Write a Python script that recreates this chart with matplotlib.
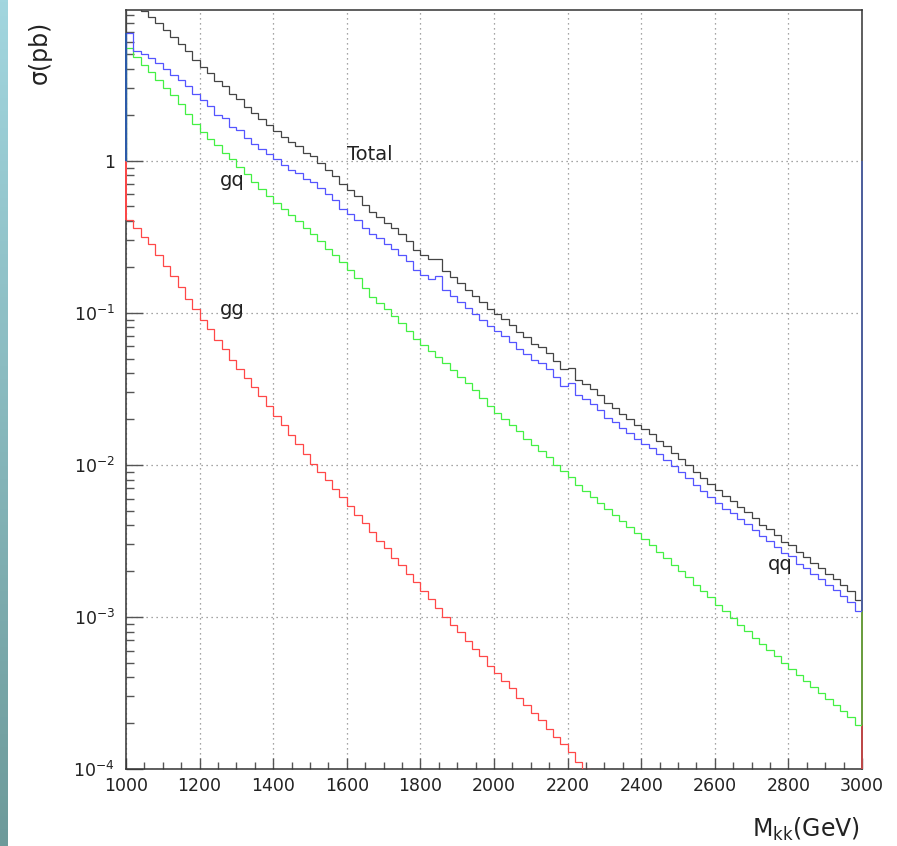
import numpy as np
import matplotlib
matplotlib.use("Agg")
import matplotlib.pyplot as plt
from matplotlib.colors import LinearSegmentedColormap
from matplotlib.ticker import FixedLocator, FixedFormatter, LogLocator, NullFormatter, MultipleLocator

# 20 GeV bins from 1000 to 3000 GeV
bin_edges = np.arange(1000, 3001, 20)

# sigma (pb) per bin
sigma_total = [12.8, 10.4, 9.60, 8.81, 8.00, 7.20, 6.49, 5.88, 5.25, 4.60,
               4.15, 3.75, 3.33, 3.09, 2.73, 2.53, 2.26, 2.05, 1.87, 1.71,
               1.57, 1.43, 1.32, 1.24, 1.13, 1.07, 0.965, 0.874, 0.797, 0.699,
               0.643, 0.582, 0.512, 0.461, 0.427, 0.390, 0.361, 0.327, 0.297, 0.260,
               0.241, 0.224, 0.227, 0.189, 0.172, 0.156, 0.142, 0.129, 0.117, 0.106,
               0.0982, 0.0912, 0.0831, 0.0744, 0.0688, 0.0627, 0.0593, 0.0541, 0.0482, 0.0424,
               0.0432, 0.0363, 0.0338, 0.0314, 0.0286, 0.0256, 0.0238, 0.0217, 0.0201, 0.0184,
               0.0171, 0.0159, 0.0144, 0.0132, 0.0120, 0.0109, 0.00995, 0.00903, 0.00824, 0.00752,
               0.00682, 0.00623, 0.00577, 0.00526, 0.00488, 0.00444, 0.00405, 0.00376, 0.00343, 0.00313,
               0.00297, 0.00266, 0.00247, 0.00226, 0.00210, 0.00191, 0.00177, 0.00162, 0.00148, 0.00130]

sigma_qq = [6.87, 5.25, 5.01, 4.73, 4.37, 3.98, 3.63, 3.39, 3.09, 2.75,
            2.51, 2.29, 2.00, 1.91, 1.66, 1.58, 1.41, 1.29, 1.20, 1.10,
            1.02, 0.933, 0.871, 0.832, 0.759, 0.724, 0.661, 0.603, 0.550, 0.479,
            0.447, 0.407, 0.363, 0.331, 0.309, 0.282, 0.263, 0.240, 0.219, 0.191,
            0.178, 0.166, 0.174, 0.141, 0.129, 0.117, 0.107, 0.0977, 0.0891, 0.0813,
            0.0759, 0.0708, 0.0646, 0.0575, 0.0537, 0.0490, 0.0468, 0.0427, 0.0380, 0.0331,
            0.0347, 0.0288, 0.0269, 0.0251, 0.0229, 0.0204, 0.0191, 0.0174, 0.0162, 0.0148,
            0.0138, 0.0129, 0.0117, 0.0107, 0.00977, 0.00891, 0.00813, 0.00741, 0.00676, 0.00617,
            0.00562, 0.00513, 0.00479, 0.00437, 0.00407, 0.00372, 0.00339, 0.00316, 0.00288, 0.00263,
            0.00251, 0.00224, 0.00209, 0.00191, 0.00178, 0.00162, 0.00151, 0.00138, 0.00126, 0.00110]

sigma_gq = [5.50, 4.79, 4.27, 3.80, 3.39, 3.02, 2.69, 2.34, 2.04, 1.74,
            1.55, 1.38, 1.26, 1.12, 1.02, 0.912, 0.813, 0.724, 0.646, 0.589,
            0.525, 0.479, 0.437, 0.398, 0.363, 0.331, 0.295, 0.263, 0.240, 0.214,
            0.191, 0.170, 0.145, 0.126, 0.115, 0.105, 0.0955, 0.0851, 0.0759, 0.0676,
            0.0617, 0.0562, 0.0513, 0.0468, 0.0417, 0.0380, 0.0347, 0.0309, 0.0275, 0.0245,
            0.0219, 0.0200, 0.0182, 0.0166, 0.0148, 0.0135, 0.0123, 0.0112, 0.0100, 0.00912,
            0.00832, 0.00741, 0.00676, 0.00617, 0.00562, 0.00513, 0.00468, 0.00427, 0.00389, 0.00355,
            0.00324, 0.00295, 0.00269, 0.00245, 0.00219, 0.00200, 0.00182, 0.00162, 0.00148, 0.00135,
            0.00120, 0.00110, 0.000977, 0.000891, 0.000813, 0.000724, 0.000661, 0.000603, 0.000550, 0.000501,
            0.000457, 0.000417, 0.000380, 0.000347, 0.000316, 0.000288, 0.000263, 0.000240, 0.000219, 0.000195]

# gg drops below the plotted range after ~2260 GeV
sigma_gg = [0.407, 0.363, 0.316, 0.282, 0.240, 0.204, 0.174, 0.148, 0.123, 0.105,
            0.0891, 0.0776, 0.0661, 0.0575, 0.0490, 0.0427, 0.0372, 0.0324, 0.0282, 0.0245,
            0.0209, 0.0182, 0.0158, 0.0138, 0.0117, 0.0102, 0.00891, 0.00794, 0.00692, 0.00617,
            0.00537, 0.00468, 0.00417, 0.00363, 0.00316, 0.00282, 0.00245, 0.00219, 0.00191, 0.00170,
            0.00148, 0.00132, 0.00115, 0.00100, 0.000891, 0.000794, 0.000692, 0.000617, 0.000550, 0.000479,
            0.000427, 0.000380, 0.000339, 0.000295, 0.000263, 0.000234, 0.000209, 0.000182, 0.000162, 0.000145,
            0.000129, 0.000112, 0.000100, 0.0000891]

y_ticks = [1e-4, 1e-3, 1e-2, 1e-1, 1]
y_tick_labels = [r'$10^{-4}$', r'$10^{-3}$', r'$10^{-2}$', r'$10^{-1}$', '1']
x_ticks = [1000, 1200, 1400, 1600, 1800, 2000, 2200, 2400, 2600, 2800, 3000]

c_total, c_qq, c_gq, c_gg = '#444444', '#5555ff', '#44f044', '#ff4848'
txt = '#222222'

fig = plt.figure(figsize=(8.97, 8.46), dpi=100)

# slide background strip on the left
strip = fig.add_axes([0, 0, 8 / 897, 1])
cmap = LinearSegmentedColormap.from_list('slide', ['#a2d6df', '#6d9a9a'])
strip.imshow(np.linspace(0, 1, 256).reshape(-1, 1), aspect='auto', cmap=cmap)
strip.axis('off')

ax = fig.add_axes([126 / 897, 77 / 846, 736 / 897, 759 / 846])
ax.set_yscale('log')
ax.set_xlim(1000, 3000)
ax.set_ylim(1e-4, 9.78)

# ROOT draws each histogram's end edges down to y=1
ax.stairs(sigma_total, bin_edges, baseline=1.0, color=c_total, lw=0.9, zorder=3)
ax.stairs(sigma_gg, bin_edges[:len(sigma_gg) + 1], baseline=None, color=c_gg, lw=0.9, zorder=3)
ax.vlines([bin_edges[0]], sigma_gg[0], 1.0, color=c_gg, lw=1.4, zorder=3, clip_on=False)
ax.vlines([bin_edges[-1]], 1e-4, 1.0, color='#c04848', lw=1.4, zorder=3, clip_on=False)
ax.stairs(sigma_gq, bin_edges, baseline=1.0, color=c_gq, lw=0.9, zorder=3)
ax.vlines([bin_edges[-1]], sigma_gq[-1], 1.0, color='#6aa040', lw=1.4, zorder=3, clip_on=False)
ax.stairs(sigma_qq, bin_edges, baseline=1.0, color=c_qq, lw=0.9, zorder=3)
ax.vlines([bin_edges[0]], 1.0, sigma_qq[0], color='#2a5aa8', lw=1.4, zorder=3, clip_on=False)
ax.vlines([bin_edges[-1]], sigma_qq[-1], 1.0, color='#5060a0', lw=1.4, zorder=3, clip_on=False)

ax.grid(True, which='major', ls=(0, (1, 3)), color='#888888', lw=0.9)

ax.yaxis.set_major_locator(FixedLocator(y_ticks))
ax.yaxis.set_major_formatter(FixedFormatter(y_tick_labels))
ax.yaxis.set_minor_locator(LogLocator(base=10, subs=np.arange(2, 10)))
ax.yaxis.set_minor_formatter(NullFormatter())
ax.xaxis.set_major_locator(FixedLocator(x_ticks))
ax.xaxis.set_minor_locator(MultipleLocator(50))

ax.tick_params(axis='y', which='major', direction='in', length=12, width=1, pad=8,
               labelsize=12.5, labelcolor=txt, color='#555555')
ax.tick_params(axis='y', which='minor', direction='in', length=6, width=1, color='#555555')
ax.tick_params(axis='x', which='major', direction='in', length=8, width=1, pad=6,
               labelsize=12.5, labelcolor=txt, color='#555555')
ax.tick_params(axis='x', which='minor', direction='in', length=5, width=1, color='#555555')

for s in ax.spines.values():
    s.set_color('#333333')
    s.set_linewidth(1.1)

ax.text(1600, 1.1, 'Total', fontsize=14, color=txt, va='center', ha='left')
ax.text(1255, 0.74, 'gq', fontsize=14, color=txt, va='center', ha='left')
ax.text(1255, 0.105, 'gg', fontsize=14, color=txt, va='center', ha='left')
ax.text(2745, 0.0022, 'qq', fontsize=14, color=txt, va='center', ha='left')

fig.text(40 / 897, 1 - 52 / 846, 'σ(pb)', rotation=90, fontsize=17, color=txt,
         ha='center', va='center')
fig.text(860 / 897, 1 - 829 / 846, r'M$_{\mathregular{kk}}$(GeV)', fontsize=17, color=txt,
         ha='right', va='center')

fig.savefig('out.png', dpi=100)
